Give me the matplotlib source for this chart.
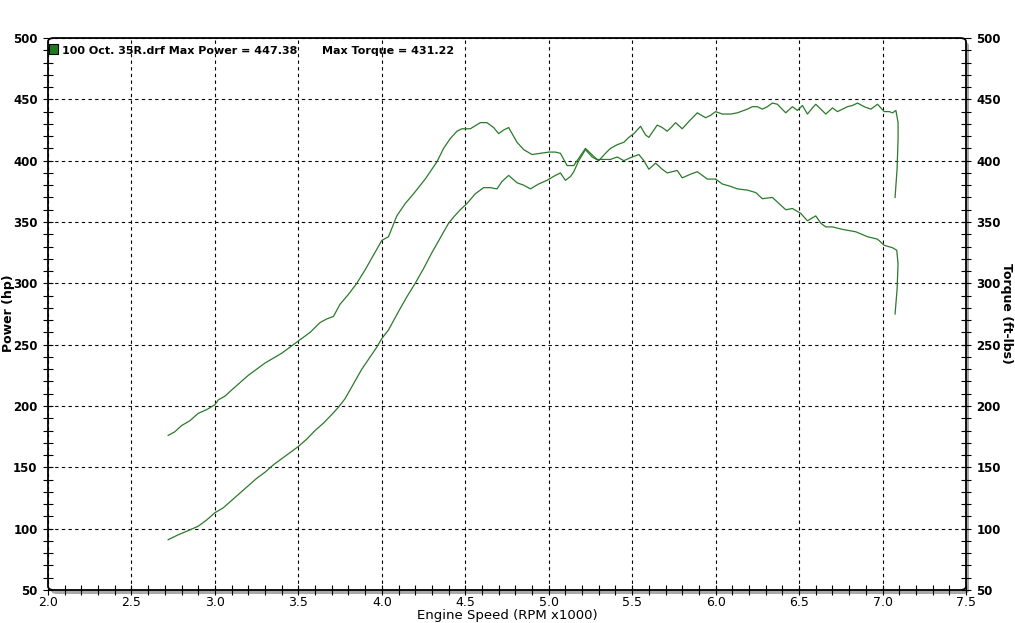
import matplotlib
matplotlib.use("Agg")
import matplotlib.pyplot as plt
from matplotlib.patches import FancyBboxPatch, Rectangle
from matplotlib.ticker import MultipleLocator

# --- Data ---
power_rpm = [2.72, 2.78, 2.85, 2.90, 2.95, 3.00, 3.05, 3.10, 3.15, 3.20, 3.25, 3.30,
             3.35, 3.40, 3.45, 3.50, 3.55, 3.60, 3.65, 3.70, 3.74, 3.78, 3.83, 3.88,
             3.93, 3.97, 4.00, 4.04, 4.10, 4.15, 4.20, 4.25, 4.30, 4.35, 4.40, 4.43,
             4.47, 4.51, 4.56, 4.61, 4.65, 4.69, 4.72, 4.76, 4.81, 4.85, 4.89, 4.94,
             4.99, 5.04, 5.07, 5.10, 5.13, 5.15, 5.18, 5.22, 5.26, 5.30, 5.34, 5.37,
             5.41, 5.45, 5.48, 5.51, 5.55, 5.58, 5.60, 5.63, 5.65, 5.68, 5.71, 5.74,
             5.76, 5.80, 5.84, 5.89, 5.94, 5.97, 6.00, 6.04, 6.09, 6.13, 6.19, 6.22,
             6.25, 6.28, 6.31, 6.34, 6.37, 6.42, 6.46, 6.49, 6.52, 6.55, 6.58, 6.60,
             6.63, 6.66, 6.70, 6.73, 6.76, 6.79, 6.82, 6.85, 6.89, 6.93, 6.97, 7.01,
             7.04, 7.06, 7.08, 7.093, 7.093, 7.087, 7.075]
power_hp = [91, 95, 99, 102, 107, 113, 117, 123, 129, 135, 141, 146,
            152, 157, 162, 167, 173, 180, 186, 193, 199, 206, 218, 230,
            240, 248, 255, 262, 277, 289, 300, 312, 325, 337, 349, 354,
            360, 365, 373, 378, 378, 377, 383, 388, 382, 380, 377, 381,
            384, 388, 390, 384, 387, 391, 400, 409, 403, 400, 406, 410,
            413, 415, 419, 422, 428, 421, 419, 425, 429, 427, 424, 428,
            431, 426, 432, 439, 435, 437, 440, 438, 438, 439, 442, 444,
            444, 442, 444, 447, 446, 439, 444, 441, 445, 438, 443, 446,
            442, 438, 443, 440, 442, 444, 445, 447, 444, 442, 446, 440,
            440, 439, 441, 431, 417, 393, 370]

torque_rpm = [2.72, 2.76, 2.80, 2.85, 2.90, 2.95, 3.00, 3.02, 3.06, 3.10, 3.15, 3.20,
              3.25, 3.30, 3.35, 3.40, 3.45, 3.51, 3.57, 3.63, 3.67, 3.71, 3.75, 3.80,
              3.85, 3.90, 3.95, 4.00, 4.04, 4.09, 4.14, 4.19, 4.26, 4.33, 4.37, 4.41,
              4.45, 4.48, 4.53, 4.59, 4.63, 4.67, 4.70, 4.73, 4.76, 4.81, 4.85, 4.90,
              4.95, 5.00, 5.04, 5.07, 5.11, 5.15, 5.19, 5.22, 5.25, 5.29, 5.33, 5.37,
              5.41, 5.45, 5.50, 5.54, 5.57, 5.60, 5.64, 5.68, 5.71, 5.77, 5.80, 5.85,
              5.89, 5.95, 6.00, 6.04, 6.09, 6.13, 6.19, 6.24, 6.28, 6.34, 6.38, 6.42,
              6.46, 6.51, 6.55, 6.60, 6.63, 6.66, 6.70, 6.76, 6.84, 6.91, 6.97, 7.01,
              7.06, 7.085, 7.093, 7.087, 7.075]
torque_ftlb = [176, 179, 184, 188, 194, 197, 201, 205, 208, 213, 219, 225,
               230, 235, 239, 243, 248, 254, 260, 268, 271, 273, 283, 291,
               300, 311, 323, 335, 338, 355, 365, 373, 385, 399, 410, 418,
               424, 426, 426, 431, 431, 427, 422, 425, 427, 415, 409, 405,
               406, 407, 407, 406, 396, 396, 404, 410, 406, 401, 401, 401,
               403, 400, 403, 405, 400, 393, 398, 393, 390, 392, 386, 389,
               391, 385, 385, 381, 379, 377, 376, 374, 369, 370, 365, 360,
               361, 357, 351, 355, 349, 346, 346, 344, 342, 338, 336, 331,
               329, 327, 316, 295, 275]

run_name = "100 Oct. 35R.drf"
max_power = 447.38
max_torque = 431.22

LINE_COLOR = "#2b7a2b"
NARROW = ["Liberation Sans Narrow", "DejaVu Sans"]
W, H = 1015, 623

fig = plt.figure(figsize=(W / 100, H / 100), dpi=100)
fig.patch.set_facecolor("white")

# axes box in pixels
x0, x1, ytop, ybot = 48, 966, 38, 590
ax = fig.add_axes([x0 / W, 1 - ybot / H, (x1 - x0) / W, (ybot - ytop) / H])
ax.set_facecolor("none")
for s in ax.spines.values():
    s.set_visible(False)

# shadow + rounded frame
shadow = FancyBboxPatch((x0 / W + 3 / W, 1 - ybot / H - 4 / H), (x1 - x0) / W, (ybot - ytop) / H,
                        boxstyle="round,pad=0,rounding_size=0.006", transform=fig.transFigure,
                        facecolor="#a8a8a8", edgecolor="none", zorder=-3)
frame = FancyBboxPatch((x0 / W, 1 - ybot / H), (x1 - x0) / W, (ybot - ytop) / H,
                       boxstyle="round,pad=0,rounding_size=0.006", transform=fig.transFigure,
                       facecolor="white", edgecolor="black", linewidth=1.3, zorder=-2)
fig.patches.extend([shadow, frame])

ax.plot(power_rpm, power_hp, color=LINE_COLOR, lw=0.9)
ax.plot(torque_rpm, torque_ftlb, color=LINE_COLOR, lw=0.9)

ax.set_xlim(2.0, 7.5)
ax.set_ylim(50, 500)
ax.xaxis.set_major_locator(MultipleLocator(0.5))
ax.xaxis.set_minor_locator(MultipleLocator(0.1))
ax.yaxis.set_major_locator(MultipleLocator(50))
ax.yaxis.set_minor_locator(MultipleLocator(10))

ax.grid(True, which="major", color="black", linestyle=(0, (3, 3)), linewidth=0.8)

ax.tick_params(axis="both", which="both", direction="inout", color="black", width=0.8, length=7)
ax.tick_params(axis="y", which="both", left=True, right=True, labelleft=True, labelright=True,
               labelsize=8.5, pad=4)
ax.tick_params(axis="x", which="both", top=False, labelsize=9, pad=1)

ax.set_xticks([2.0 + 0.5 * i for i in range(12)])
ax.set_xticklabels([f"{2.0 + 0.5 * i:.1f}" for i in range(12)])
for lab in ax.get_yticklabels():
    lab.set_fontweight("bold")
for lab in ax.get_xticklabels():
    lab.set_family(NARROW)

fig.text(507 / W, 1 - 616 / H, "Engine Speed (RPM x1000)", family=NARROW,
         ha="center", va="center", fontsize=9.5)
fig.text(9 / W, 1 - 313 / H, "Power (hp)", rotation=90, ha="center", va="center",
         fontsize=9, fontweight="bold")
fig.text(1006 / W, 1 - 313 / H, "Torque (ft-lbs)", rotation=270, ha="center", va="center",
         fontsize=9, fontweight="bold")

# legend entry
fig.patches.append(Rectangle((49 / W, 1 - 54 / H), 9 / W, 10 / H, transform=fig.transFigure,
                             facecolor="#1d7a1d", edgecolor="black", linewidth=0.8, zorder=5))
fig.text(62 / W, 1 - 51 / H, f"{run_name} Max Power = {max_power:.2f}", ha="left", va="center",
         fontsize=8, fontweight="bold")
fig.text(322 / W, 1 - 51 / H, f"Max Torque = {max_torque:.2f}", ha="left", va="center",
         fontsize=8, fontweight="bold")

fig.savefig("out.png", dpi=100)
